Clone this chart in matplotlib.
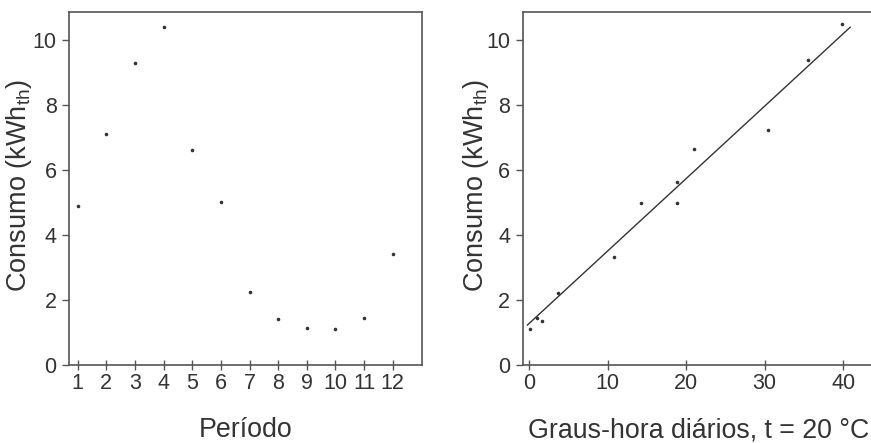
import numpy as np
import matplotlib
matplotlib.use("Agg")
import matplotlib.pyplot as plt

plt.rcParams["font.family"] = ["Liberation Sans", "DejaVu Sans"]
plt.rcParams["mathtext.fontset"] = "custom"
plt.rcParams["mathtext.rm"] = "Liberation Sans"

# left panel: consumption per period
periodo = [1, 2, 3, 4, 5, 6, 7, 8, 9, 10, 11, 12]
consumo_periodo = [4.9, 7.1, 9.3, 10.4, 6.6, 5.0, 2.25, 1.4, 1.15, 1.1, 1.45, 3.4]

# right panel: consumption vs degree-hours
graus_hora = [0.15, 1.0, 1.7, 3.75, 10.8, 14.3, 18.8, 18.9, 21.0, 30.4, 35.5, 39.9]
consumo_gh = [1.11, 1.44, 1.36, 2.23, 3.32, 4.98, 5.64, 4.97, 6.63, 7.22, 9.39, 10.49]

# regression line endpoints
reta_x = [-0.2, 40.9]
reta_y = [1.23, 10.39]

ylabel = r"Consumo (kWh$\mathregular{_{th}}$)"
ink = "#333333"
spine = "#555555"

fig = plt.figure(figsize=(8.71, 4.43), dpi=100)
ax1 = fig.add_axes([69 / 871, 78 / 443, 353 / 871, 353 / 443])
ax2 = fig.add_axes([522.7 / 871, 78 / 443, 351 / 871, 353 / 443])

ax1.plot(periodo, consumo_periodo, "o", color=ink, ms=2.6, mew=0)
ax1.set_xlim(0.7, 13.02)
ax1.set_xticks(periodo)
ax1.set_xlabel("Período", fontsize=19.3, color=ink)
ax1.xaxis.set_label_coords(0.5, -0.148)
ax1.set_ylabel(ylabel, fontsize=19.5, color=ink)
ax1.yaxis.set_label_coords(-0.098, 0.51)

ax2.plot(graus_hora, consumo_gh, "o", color=ink, ms=2.6, mew=0)
ax2.plot(reta_x, reta_y, "-", color=ink, lw=1.0)
ax2.set_xlim(-0.8, 43.9)
ax2.set_xticks([0, 10, 20, 30, 40])
ax2.set_xlabel("Graus-hora diários, t = 20 °C", fontsize=19.3, color=ink)
ax2.xaxis.set_label_coords(0.5, -0.148)
ax2.set_ylabel(ylabel, fontsize=19.5, color=ink)
ax2.yaxis.set_label_coords(-0.090, 0.51)

for ax in (ax1, ax2):
    ax.set_ylim(0, 10.86)
    ax.set_yticks([0, 2, 4, 6, 8, 10])
    for s in ax.spines.values():
        s.set_color(spine)
        s.set_linewidth(1.2)
    ax.tick_params(axis="y", direction="out", length=5, width=1, color=spine,
                   labelsize=15.5, labelcolor=ink, pad=4)
    ax.tick_params(axis="x", direction="inout", length=7, width=1, color=spine,
                   labelsize=15.5, labelcolor=ink, pad=2)

fig.savefig("out.png", dpi=100)
